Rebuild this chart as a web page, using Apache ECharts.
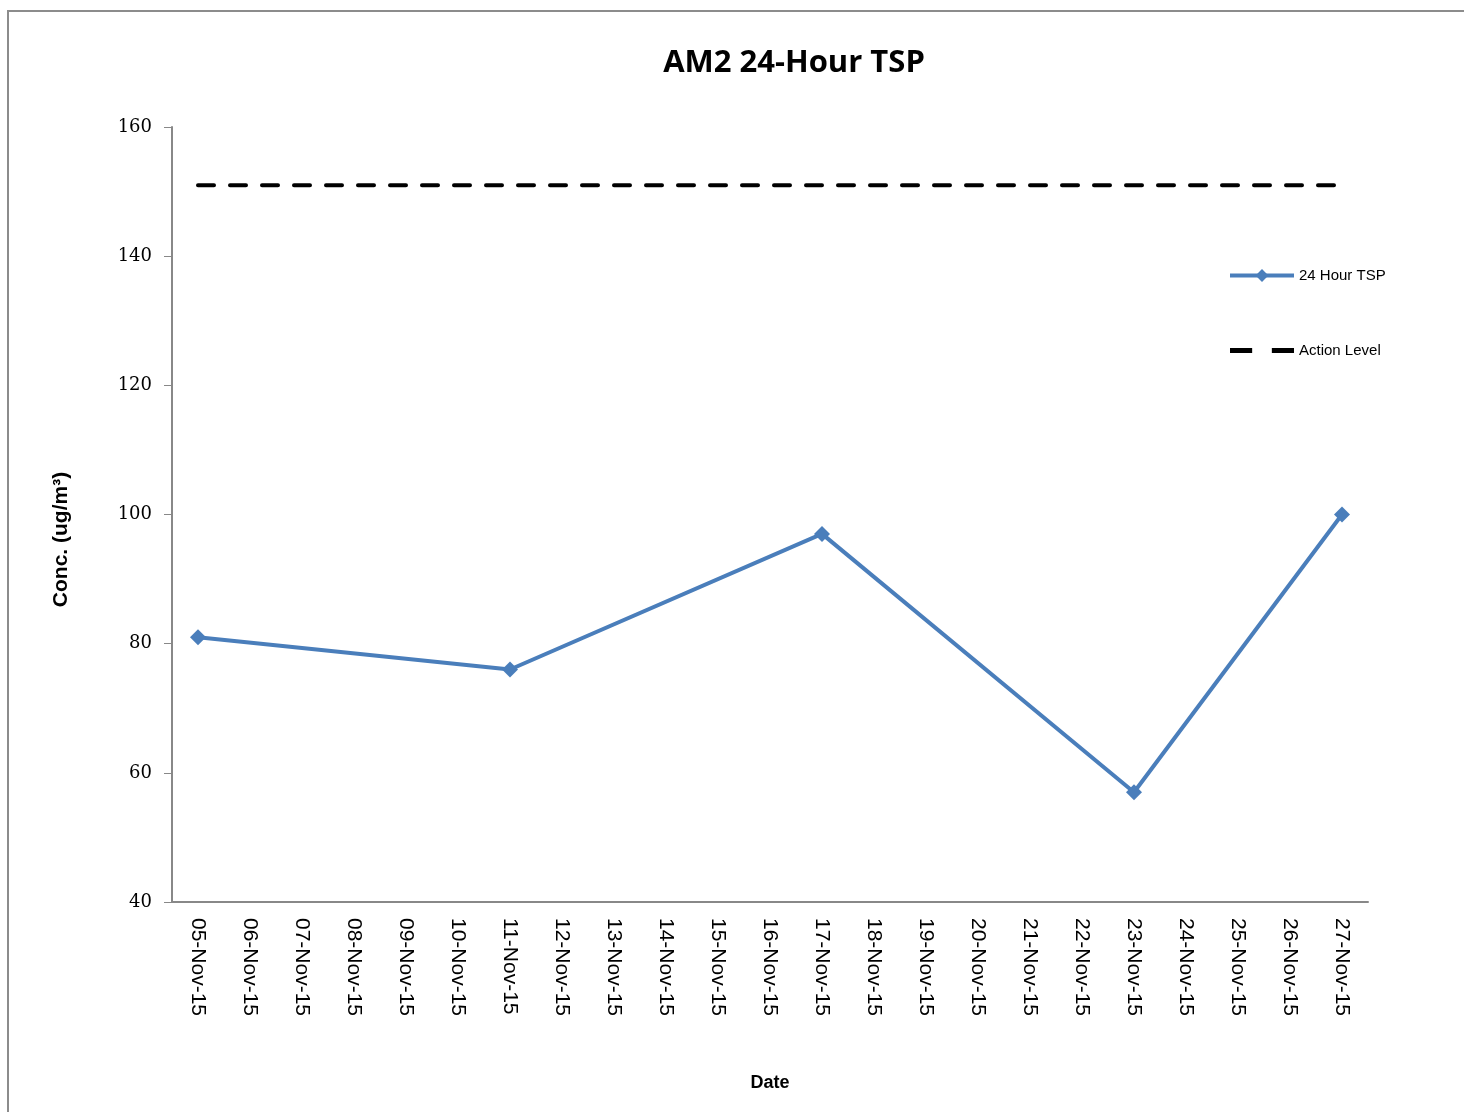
<!DOCTYPE html>
<html><head><meta charset="utf-8">
<script src="https://cdn.jsdelivr.net/npm/echarts@6/dist/echarts.min.js"></script>
<style>html,body{margin:0;padding:0;background:#fff;}#c{width:1464px;height:1112px;}</style>
</head><body><div id="c"></div>
<script>
const categories = ['05-Nov-15','06-Nov-15','07-Nov-15','08-Nov-15','09-Nov-15','10-Nov-15','11-Nov-15','12-Nov-15','13-Nov-15','14-Nov-15','15-Nov-15','16-Nov-15','17-Nov-15','18-Nov-15','19-Nov-15','20-Nov-15','21-Nov-15','22-Nov-15','23-Nov-15','24-Nov-15','25-Nov-15','26-Nov-15','27-Nov-15'];
const tsp = [81,null,null,null,null,null,76,null,null,null,null,null,97,null,null,null,null,null,57,null,null,null,100];
const actionLevel = [151,151,151,151,151,151,151,151,151,151,151,151,151,151,151,151,151,151,151,151,151,151,151];
const yTicks = {min:40, max:160, interval:20};

const chart = echarts.init(document.getElementById('c'));
chart.setOption({
  animation:false,
  backgroundColor:'#fff',
  graphic:[{type:'rect',shape:{x:8,y:11,width:1470,height:1110},style:{fill:'none',stroke:'#8c8c8c',lineWidth:2},silent:true}],
  title:{text:'AM2 24-Hour TSP',left:789,top:43,textAlign:'center',textStyle:{fontFamily:'Open Sans',fontSize:31,fontWeight:'bold',color:'#000'}},
  grid:{left:172,right:96,top:127,bottom:210,containLabel:false},
  legend:{orient:'vertical',left:1223,top:263,itemGap:60,itemWidth:64,itemHeight:16,
    textStyle:{fontFamily:'Liberation Sans',fontSize:15,color:'#000'},
    data:[{name:'24 Hour TSP',lineStyle:{width:4}},
          {name:'Action Level',icon:'path://M0,0H18V4H0Z M34,0H52V4H34Z',itemStyle:{color:'#000'}}]},
  xAxis:{type:'category',data:categories,boundaryGap:true,
    name:'Date',nameLocation:'middle',nameGap:172,
    nameTextStyle:{fontFamily:'Liberation Sans',fontSize:18,fontWeight:'bold',color:'#000'},
    axisLine:{lineStyle:{color:'#888',width:2}},axisTick:{show:false},
    axisLabel:{rotate:-90,interval:0,margin:16,fontFamily:'Liberation Sans',fontSize:21,color:'#000'},
    splitLine:{show:false}},
  yAxis:{type:'value',min:yTicks.min,max:yTicks.max,interval:yTicks.interval,
    name:'Conc. (ug/m³)',nameLocation:'middle',nameGap:100,nameRotate:90,
    nameTextStyle:{fontFamily:'Liberation Sans',fontSize:21,fontWeight:'bold',color:'#000',padding:[0,50,0,0]},
    axisLine:{show:true,lineStyle:{color:'#888',width:2}},
    axisTick:{show:true,length:8,lineStyle:{color:'#888',width:1}},
    axisLabel:{margin:20,fontFamily:'DejaVu Serif',fontSize:18,color:'#000'},
    splitLine:{show:false}},
  series:[
    {name:'24 Hour TSP',type:'line',data:tsp,connectNulls:true,symbol:'diamond',symbolSize:16,
      lineStyle:{color:'#4a7ebb',width:4},itemStyle:{color:'#4a7ebb'}},
    {name:'Action Level',type:'line',data:actionLevel,symbol:'none',
      lineStyle:{color:'#000',width:4,type:[16,16],cap:'round'},itemStyle:{color:'#000'}}
  ]
});
</script></body></html>
